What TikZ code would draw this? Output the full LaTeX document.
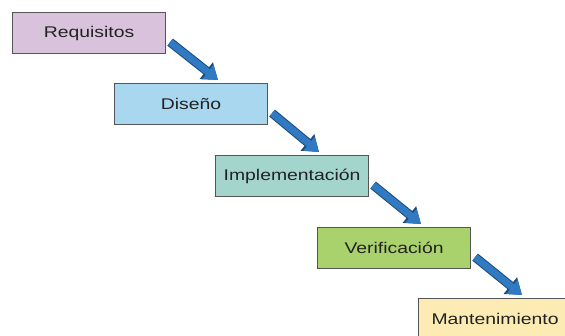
\documentclass[tikz,border=0pt]{standalone}
\usepackage{fontspec}
\setmainfont{Liberation Sans}
\newfontfamily\boxfont[FakeStretch=1.25]{Liberation Sans}
\usetikzlibrary{arrows.meta,calc}
\definecolor{cReq}{HTML}{D9C3DC}
\definecolor{cDis}{HTML}{A9D7F0}
\definecolor{cImp}{HTML}{A3D5CD}
\definecolor{cVer}{HTML}{A9D26C}
\definecolor{cMan}{HTML}{FCEBB2}
\definecolor{cArr}{HTML}{2F7AC2}
\definecolor{cArrB}{HTML}{1E4A78}
\definecolor{cBord}{HTML}{555555}
\definecolor{cTxt}{HTML}{222222}
\tikzset{
  stagebox/.style={draw=cBord, line width=1.1pt, minimum width=153pt, minimum height=41pt,
    inner sep=0pt, anchor=north west, font=\boxfont\fontsize{15.5}{18}\selectfont, text=cTxt},
  bigarrow/.style={line width=7pt, draw=cArr, -{Triangle[width=17pt,length=13pt]},
    preaction={draw=cArrB, line width=9pt, -{Triangle[width=20.5pt,length=15pt]}}}
}
\begin{document}
\begin{tikzpicture}[x=1pt,y=-1pt]
\useasboundingbox (0,0) rectangle (565,335);
\begin{scope}
\clip (0,0) rectangle (565,335);
\node[stagebox, fill=cReq] (R) at (12,12) {Requisitos};
\node[stagebox, fill=cDis] (D) at (114,83) {Diseño};
\node[stagebox, fill=cImp] (I) at (215,155) {Implementación};
\node[stagebox, fill=cVer] (V) at (317,227) {Verificación};
\node[stagebox, fill=cMan] (M) at (418,298) {Mantenimiento};
\foreach \a/\b/\n in {R/D/1, D/I/2, I/V/3, V/M/4}{
  \coordinate (s\n) at ($(\a.south east)+(4,-12)$);
  \coordinate (e\n) at ($(\b.north west)+(104,-3)$);
  \draw[bigarrow] (s\n) -- (e\n);
}
\end{scope}
\end{tikzpicture}
\end{document}
